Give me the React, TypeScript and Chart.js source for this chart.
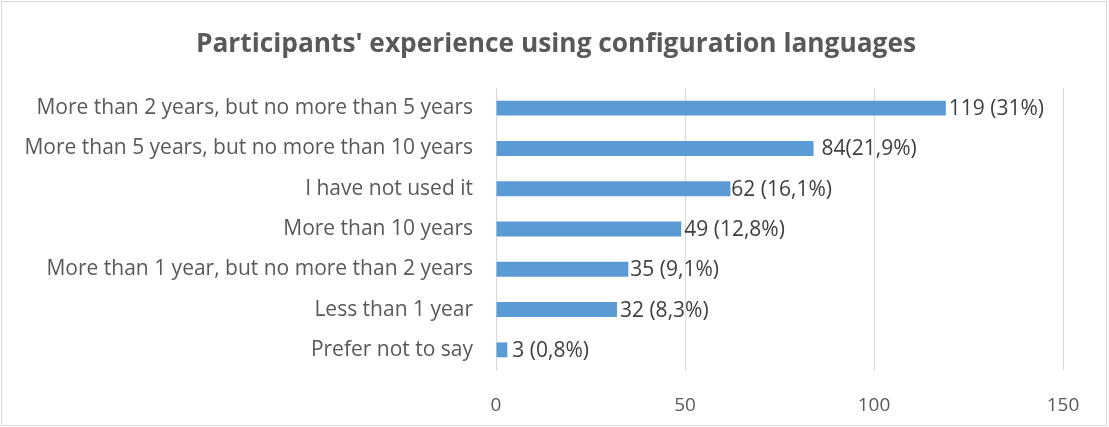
import React, { useEffect, useRef } from "react";
import { Chart, registerables } from "chart.js";

Chart.register(...registerables);

const categories = [
  "More than 2 years, but no more than 5 years",
  "More than 5 years, but no more than 10 years",
  "I have not used it",
  "More than 10 years",
  "More than 1 year, but no more than 2 years",
  "Less than 1 year",
  "Prefer not to say",
];
const counts = [119, 84, 62, 49, 35, 32, 3];
const valueLabels = ["119 (31%)", "84(21,9%)", "62 (16,1%)", "49 (12,8%)", "35 (9,1%)", "32 (8,3%)", "3 (0,8%)"];
const labelGaps = [3, 8, 1, 3, 2, 3, 5];
const xTicks = [0, 50, 100, 150];
const title = "Participants' experience using configuration languages";

const FONT = "'Open Sans', 'Noto Sans', sans-serif";

export default function App() {
  const ref = useRef<HTMLCanvasElement>(null);
  useEffect(() => {
    document.body.style.margin = "0";
    const canvas = ref.current!;
    const frame = {
      id: "frame",
      beforeDraw(chart: any) {
        const ctx = chart.ctx;
        ctx.save();
        ctx.fillStyle = "#ffffff";
        ctx.fillRect(0, 0, chart.width, chart.height);
        ctx.strokeStyle = "#d9d9d9";
        ctx.lineWidth = 1;
        ctx.strokeRect(1.5, 1.5, chart.width - 4, chart.height - 3);
        ctx.fillStyle = "#595959";
        ctx.font = `bold 26.3px ${FONT}`;
        ctx.textAlign = "center";
        ctx.textBaseline = "alphabetic";
        ctx.fillText(title, 556, 52);
        ctx.restore();
      },
      afterDatasetsDraw(chart: any) {
        const ctx = chart.ctx;
        const meta = chart.getDatasetMeta(0);
        ctx.save();
        ctx.fillStyle = "#404040";
        ctx.font = `21px ${FONT}`;
        ctx.textAlign = "left";
        ctx.textBaseline = "middle";
        meta.data.forEach((bar: any, i: number) => {
          ctx.fillText(valueLabels[i], bar.x + labelGaps[i], bar.y + 1);
        });
        ctx.restore();
      },
    };
    const chart = new Chart(canvas, {
      type: "bar",
      data: {
        labels: categories,
        datasets: [
          {
            data: counts,
            backgroundColor: "#5b9bd5",
            borderWidth: 0,
            barPercentage: 0.37,
            categoryPercentage: 1,
          },
        ],
      },
      options: {
        indexAxis: "y",
        animation: false,
        responsive: true,
        maintainAspectRatio: false,
        layout: { padding: { left: 0, right: 46, top: 88, bottom: 0 } },
        plugins: {
          legend: { display: false },
          tooltip: { enabled: false },
          title: { display: false },
        },
        scales: {
          x: {
            min: 0,
            max: 150,
            afterBuildTicks(scale: any) {
              scale.ticks = xTicks.map((v) => ({ value: v }));
            },
            afterFit(scale: any) {
              scale.height = 57;
            },
            ticks: {
              color: "#595959",
              font: { family: FONT, size: 19 },
              padding: 24,
            },
            grid: { color: "#d9d9d9", lineWidth: 1, drawTicks: false },
            border: { display: false },
          },
          y: {
            afterFit(scale: any) {
              scale.width = 496;
            },
            ticks: {
              color: "#595959",
              font: { family: FONT, size: 21 },
              padding: 23,
            },
            grid: { display: false, drawTicks: false },
            border: { display: true, color: "#d9d9d9", width: 1 },
          },
        },
      },
      plugins: [frame],
    });
    return () => chart.destroy();
  }, []);
  return (
    <div style={{ width: 1109, height: 427, position: "relative" }}>
      <canvas ref={ref} />
    </div>
  );
}
